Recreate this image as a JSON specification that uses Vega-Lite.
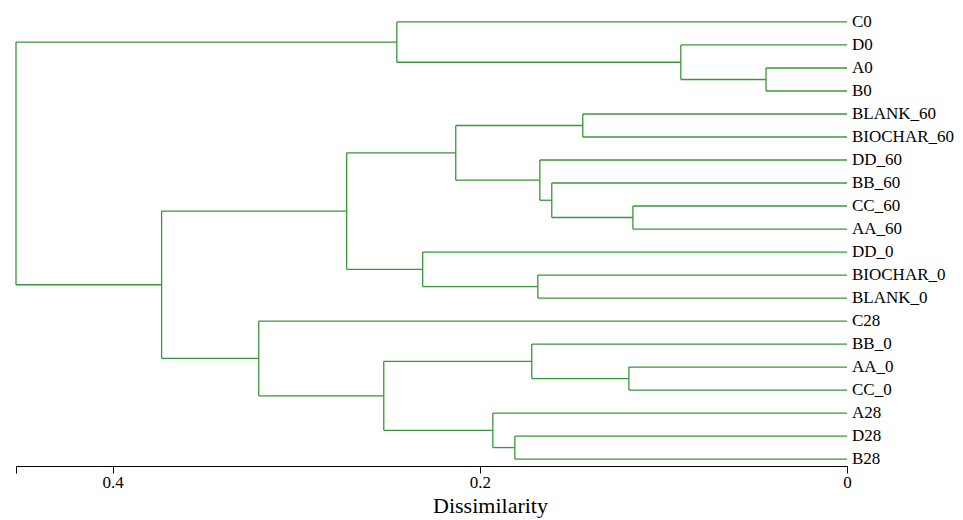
{
  "$schema": "https://vega.github.io/schema/vega-lite/v6.json",
  "width": 831,
  "height": 456,
  "autosize": "none",
  "padding": {"left": 16, "top": 10, "right": 116, "bottom": 54},
  "config": {"view": {"stroke": null}, "font": "Liberation Serif"},
  "datasets": {
    "leaves": [
      {"label": "C0", "pos": 0, "h": 0},
      {"label": "D0", "pos": 1, "h": 0},
      {"label": "A0", "pos": 2, "h": 0},
      {"label": "B0", "pos": 3, "h": 0},
      {"label": "BLANK_60", "pos": 4, "h": 0},
      {"label": "BIOCHAR_60", "pos": 5, "h": 0},
      {"label": "DD_60", "pos": 6, "h": 0},
      {"label": "BB_60", "pos": 7, "h": 0},
      {"label": "CC_60", "pos": 8, "h": 0},
      {"label": "AA_60", "pos": 9, "h": 0},
      {"label": "DD_0", "pos": 10, "h": 0},
      {"label": "BIOCHAR_0", "pos": 11, "h": 0},
      {"label": "BLANK_0", "pos": 12, "h": 0},
      {"label": "C28", "pos": 13, "h": 0},
      {"label": "BB_0", "pos": 14, "h": 0},
      {"label": "AA_0", "pos": 15, "h": 0},
      {"label": "CC_0", "pos": 16, "h": 0},
      {"label": "A28", "pos": 17, "h": 0},
      {"label": "D28", "pos": 18, "h": 0},
      {"label": "B28", "pos": 19, "h": 0}
    ],
    "links": [
      {"pos": 0, "h": 0, "h2": 0.2452},
      {"pos": 1, "h": 0, "h2": 0.0905},
      {"pos": 2, "h": 0, "h2": 0.0441},
      {"pos": 3, "h": 0, "h2": 0.0441},
      {"pos": 4, "h": 0, "h2": 0.1439},
      {"pos": 5, "h": 0, "h2": 0.1439},
      {"pos": 6, "h": 0, "h2": 0.1673},
      {"pos": 7, "h": 0, "h2": 0.1608},
      {"pos": 8, "h": 0, "h2": 0.1166},
      {"pos": 9, "h": 0, "h2": 0.1166},
      {"pos": 10, "h": 0, "h2": 0.2311},
      {"pos": 11, "h": 0, "h2": 0.1684},
      {"pos": 12, "h": 0, "h2": 0.1684},
      {"pos": 13, "h": 0, "h2": 0.3204},
      {"pos": 14, "h": 0, "h2": 0.1717},
      {"pos": 15, "h": 0, "h2": 0.1188},
      {"pos": 16, "h": 0, "h2": 0.1188},
      {"pos": 17, "h": 0, "h2": 0.1929},
      {"pos": 18, "h": 0, "h2": 0.1809},
      {"pos": 19, "h": 0, "h2": 0.1809},
      {"pos": 2.5, "h": 0.0441, "h2": 0.0905},
      {"pos": 1.75, "h": 0.0905, "h2": 0.2452},
      {"pos": 0.875, "h": 0.2452, "h2": 0.4526},
      {"pos": 4.5, "h": 0.1439, "h2": 0.2131},
      {"pos": 8.5, "h": 0.1166, "h2": 0.1608},
      {"pos": 7.75, "h": 0.1608, "h2": 0.1673},
      {"pos": 6.875, "h": 0.1673, "h2": 0.2131},
      {"pos": 5.6875, "h": 0.2131, "h2": 0.2725},
      {"pos": 11.5, "h": 0.1684, "h2": 0.2311},
      {"pos": 10.75, "h": 0.2311, "h2": 0.2725},
      {"pos": 8.21875, "h": 0.2725, "h2": 0.3733},
      {"pos": 15.5, "h": 0.1188, "h2": 0.1717},
      {"pos": 14.75, "h": 0.1717, "h2": 0.2523},
      {"pos": 18.5, "h": 0.1809, "h2": 0.1929},
      {"pos": 17.75, "h": 0.1929, "h2": 0.2523},
      {"pos": 16.25, "h": 0.2523, "h2": 0.3204},
      {"pos": 14.625, "h": 0.3204, "h2": 0.3733},
      {"pos": 11.421875, "h": 0.3733, "h2": 0.4526}
    ],
    "nodes": [
      {"h": 0.0441, "pos": 2, "pos2": 3},
      {"h": 0.0905, "pos": 1, "pos2": 2.5},
      {"h": 0.2452, "pos": 0, "pos2": 1.75},
      {"h": 0.1439, "pos": 4, "pos2": 5},
      {"h": 0.1166, "pos": 8, "pos2": 9},
      {"h": 0.1608, "pos": 7, "pos2": 8.5},
      {"h": 0.1673, "pos": 6, "pos2": 7.75},
      {"h": 0.2131, "pos": 4.5, "pos2": 6.875},
      {"h": 0.1684, "pos": 11, "pos2": 12},
      {"h": 0.2311, "pos": 10, "pos2": 11.5},
      {"h": 0.2725, "pos": 5.6875, "pos2": 10.75},
      {"h": 0.1188, "pos": 15, "pos2": 16},
      {"h": 0.1717, "pos": 14, "pos2": 15.5},
      {"h": 0.1809, "pos": 18, "pos2": 19},
      {"h": 0.1929, "pos": 17, "pos2": 18.5},
      {"h": 0.2523, "pos": 14.75, "pos2": 17.75},
      {"h": 0.3204, "pos": 13, "pos2": 16.25},
      {"h": 0.3733, "pos": 8.21875, "pos2": 14.625},
      {"h": 0.4526, "pos": 0.875, "pos2": 11.421875}
    ]
  },
  "encoding": {
    "x": {
      "field": "h",
      "type": "quantitative",
      "scale": {"domain": [0, 0.4526], "reverse": true, "nice": false, "zero": false},
      "axis": {
        "title": "Dissimilarity",
        "titleX": 474,
        "titleAlign": "center",
        "values": [0, 0.2, 0.4, 0.4526],
        "format": ".1~f",
        "labelExpr": "datum.value > 0.41 ? '' : datum.label",
        "grid": false,
        "labelFlush": false,
        "labelOverlap": false,
        "domainColor": "#000000",
        "domainWidth": 1,
        "tickColor": "#000000",
        "tickSize": 7,
        "tickWidth": 1,
        "labelFontSize": 17,
        "labelColor": "#000000",
        "labelPadding": 1,
        "titleFontSize": 22,
        "titleFontWeight": "normal",
        "titleColor": "#000000",
        "titlePadding": 5
      }
    },
    "y": {
      "field": "pos",
      "type": "quantitative",
      "scale": {"domain": [-0.52, 19.3], "reverse": true, "nice": false, "zero": false},
      "axis": null
    }
  },
  "layer": [
    {
      "data": {"name": "links"},
      "mark": {"type": "rule", "color": "#3a963a", "strokeWidth": 1.3},
      "encoding": {"x2": {"field": "h2"}}
    },
    {
      "data": {"name": "nodes"},
      "mark": {"type": "rule", "color": "#3a963a", "strokeWidth": 1.3},
      "encoding": {"y2": {"field": "pos2"}}
    },
    {
      "data": {"name": "leaves"},
      "mark": {"type": "text", "align": "left", "baseline": "middle", "dx": 5, "fontSize": 17, "color": "#000000", "font": "Liberation Serif"},
      "encoding": {"text": {"field": "label"}}
    }
  ]
}
